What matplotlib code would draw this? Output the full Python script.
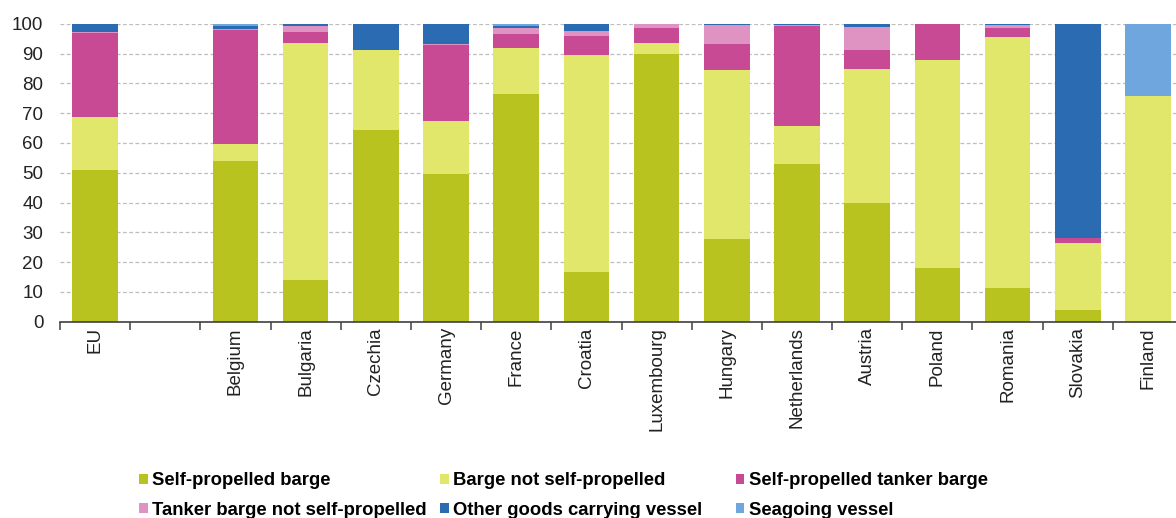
import matplotlib.pyplot as plt
import numpy as np

plt.rcParams['font.family'] = ['Liberation Sans', 'DejaVu Sans']

countries = ["EU", "", "Belgium", "Bulgaria", "Czechia", "Germany", "France", "Croatia",
             "Luxembourg", "Hungary", "Netherlands", "Austria", "Poland", "Romania",
             "Slovakia", "Finland"]

# shares of each vessel type (%), stacked bottom to top
self_propelled = [50.8, 0, 53.8, 13.9, 64.2, 49.7, 76.5, 16.7, 89.9, 27.9, 52.8, 39.8, 17.9, 11.3, 3.9, 0]
barge_not_sp = [17.8, 0, 6.0, 79.6, 27.0, 17.6, 15.4, 72.9, 3.7, 56.6, 13.0, 45.1, 69.8, 84.2, 22.6, 75.9]
tanker_sp = [28.2, 0, 38.2, 3.8, 0, 25.7, 4.7, 6.4, 5.0, 8.8, 33.5, 6.3, 12.3, 3.1, 1.7, 0]
tanker_not_sp = [0.6, 0, 0.4, 1.9, 0, 0.3, 2.0, 1.7, 1.4, 6.2, 0.2, 7.9, 0, 1.0, 0, 0]
other_goods = [2.5, 0, 0.9, 0.8, 8.8, 6.7, 0.7, 2.3, 0, 0.5, 0.5, 0.9, 0, 0.4, 71.8, 0]
seagoing = [0.1, 0, 0.7, 0, 0, 0, 0.7, 0, 0, 0, 0, 0, 0, 0, 0, 24.1]

series = [
    ("Self-propelled barge", self_propelled, "#B9C31F"),
    ("Barge not self-propelled", barge_not_sp, "#E1E76B"),
    ("Self-propelled tanker barge", tanker_sp, "#C84A94"),
    ("Tanker barge not self-propelled", tanker_not_sp, "#DE93C2"),
    ("Other goods carrying vessel", other_goods, "#2A6BB2"),
    ("Seagoing vessel", seagoing, "#70A6DE"),
]

fig = plt.figure(figsize=(11.76, 5.18), dpi=100)
ax = fig.add_axes([0.051, 0.379, 0.955, 0.575])

x = np.arange(len(countries))
bottom = np.zeros(len(countries))
handles = []
for name, vals, col in series:
    vals = np.array(vals, dtype=float)
    b = ax.bar(x, vals, width=0.65, bottom=bottom, color=col, label=name, linewidth=0)
    handles.append(b)
    bottom += vals

ax.set_xlim(-0.5, len(countries) - 0.5)
ax.set_ylim(0, 100)
ax.set_yticks(range(0, 101, 10))
ax.tick_params(axis='y', length=0, pad=12, labelsize=13.5, colors='#222222')
ax.yaxis.grid(True, linestyle=(0, (3, 2)), color='#BDBDBD', linewidth=0.9)
ax.set_axisbelow(True)

# tick marks between categories, labels centred under bars
ax.set_xticks(np.arange(-0.5, len(countries), 1.0))
ax.set_xticklabels([])
ax.set_xticks(x, minor=True)
ax.set_xticklabels(countries, minor=True, rotation=90, fontsize=13.5, color='#222222')
ax.tick_params(axis='x', which='major', length=6, width=1.1, color='#404040')
ax.tick_params(axis='x', which='minor', length=0, pad=4)

for s in ['top', 'right', 'left']:
    ax.spines[s].set_visible(False)
ax.spines['bottom'].set_color('#404040')
ax.spines['bottom'].set_linewidth(1.2)

# legend in three fixed-width columns
col_x = [0.1185, 0.3745, 0.626]
for i, cx in enumerate(col_x):
    fig.legend(handles=[handles[i], handles[i + 3]],
               loc='upper left', bbox_to_anchor=(cx, 0.088),
               frameon=False, ncol=1, handlelength=0.45, handleheight=0.45,
               handletextpad=0.25, labelspacing=0.66, borderpad=0, borderaxespad=0,
               prop={'weight': 'bold', 'size': 13.3})

fig.savefig("out.png", dpi=100)
